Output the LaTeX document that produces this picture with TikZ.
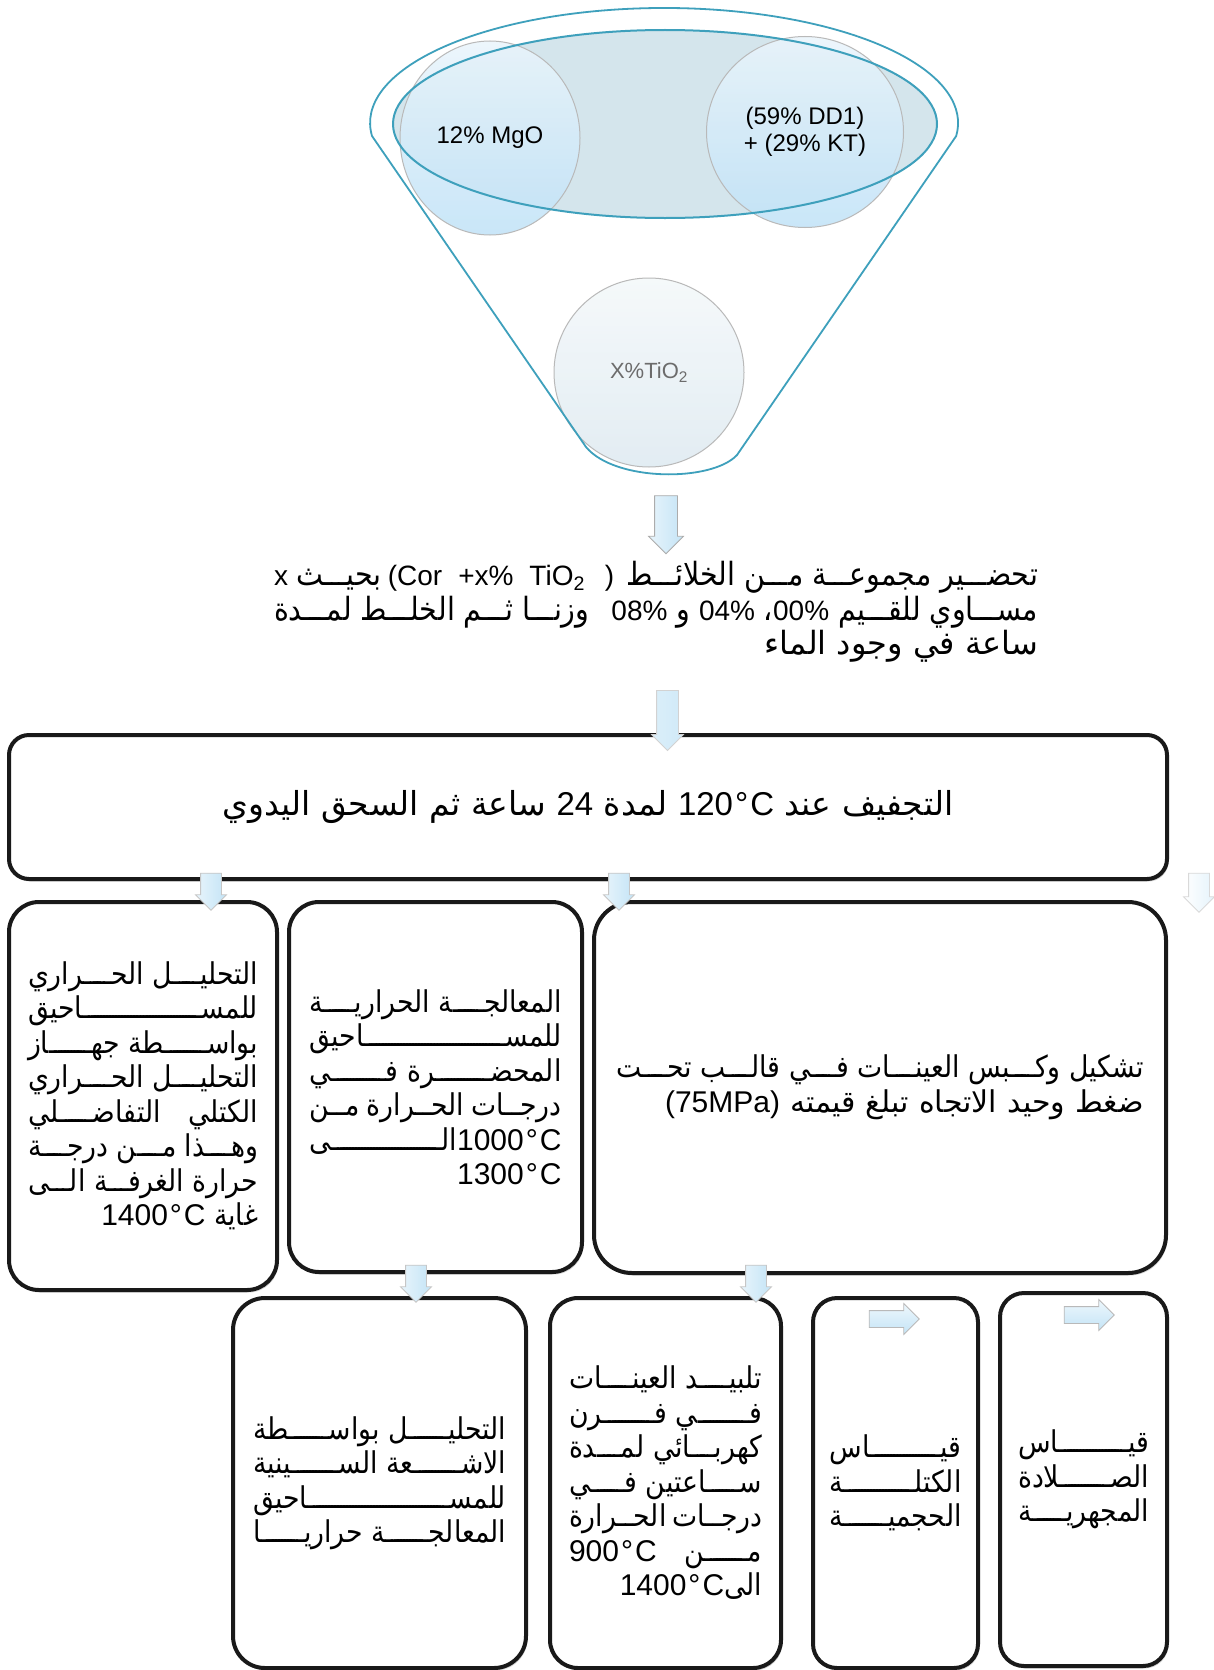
\documentclass[tikz,border=0pt]{standalone}
\usepackage{fontspec}
\setmainfont{Liberation Sans}
\newfontfamily\arfont[Script=Arabic]{DejaVu Sans}
\newfontfamily\arfontn[Script=Arabic,FakeStretch=0.89]{DejaVu Sans}
\newfontfamily\latfont{Liberation Sans}
\TeXXeTstate=1
\usetikzlibrary{shapes.geometric,shapes.arrows,shadows}
\definecolor{funnel}{RGB}{62,160,188}
\definecolor{ellfill}{RGB}{212,229,236}
\definecolor{circA}{RGB}{234,245,252}
\definecolor{circB}{RGB}{192,226,247}
\definecolor{tiA}{RGB}{244,248,250}
\definecolor{tiB}{RGB}{222,234,241}
\definecolor{arrowblue}{RGB}{196,228,246}
\newcommand\arcur{\arfont}
\newcommand\AR[1]{{\arcur\beginR #1\endR}}
\newcommand\ARw[1]{{\arfont\beginR #1\endR}}
\newcommand\LT[1]{{\latfont\beginL #1\endL}}
\newcommand\LTp[1]{{\fontsize{28}{34.5}\latfont\beginL #1\endL}}
\newcommand\degc[1]{#1\hskip2pt°\hskip2pt C}
\newcommand\kas{\xleaders\hbox to 3pt{\hss ـ\hss}\hfill}
\newcommand\jl[2]{\hbox to #1{#2}}
\newcommand\rl[2]{\hbox to #1{\hfill #2}}
\tikzset{
  stepbox/.style={draw=black!90, line width=4pt, rounded corners=30pt, fill=white, inner sep=0pt,
    drop shadow={shadow xshift=1.5pt, shadow yshift=-2.5pt, opacity=.35},
    font=\fontsize{30}{34.5}\selectfont\let\arcur\arfontn},
  circ/.style={ellipse, inner sep=0pt, draw=gray!55, line width=1pt, top color=circA, bottom color=circB,
    fill opacity=.85, text opacity=1, font=\fontsize{24}{27}\selectfont},
  barrow/.style={shape=single arrow, single arrow head extend=6pt, single arrow tip angle=90,
    inner xsep=0pt, inner ysep=11pt, draw=gray!65, line width=.8pt,
    left color=white!60!arrowblue, right color=arrowblue},
  lightarrow/.style={barrow, draw=gray!35, left color=arrowblue!60, right color=arrowblue!80},
}
\begin{document}
\begin{tikzpicture}[x=1pt,y=-1pt]
\useasboundingbox (0,0) rectangle (1214,1670);
\fill[white] (0,0) rectangle (1214,1670);

% ---------- funnel ----------
\fill[white] (372,136) arc[start angle=173.5, end angle=366.5, x radius=294, y radius=115]
  -- (737,455) .. controls (712,482) and (615,482) .. (586,447) -- cycle;
\fill[ellfill] (665,124) ellipse [x radius=272, y radius=94];
\node[circ, minimum width=180pt, minimum height=194pt] (mgo) at (490,138) {12\% MgO};
\node[circ, minimum width=197pt, minimum height=191pt, align=center] (dd1) at (805,132)
  {(59\% DD1)\\+ (29\% KT)};
\node[circ, minimum width=190pt, minimum height=189pt, top color=tiA, bottom color=tiB,
  text=gray!85!black, font=\fontsize{22}{26}\selectfont] (tio2) at (649,372.5) {X\%TiO\textsubscript{2}};
\draw[funnel, line width=2pt] (665,124) ellipse [x radius=272, y radius=94];
\draw[funnel, line width=1.8pt] (372,136) arc[start angle=173.5, end angle=366.5, x radius=294, y radius=115]
  -- (737,455) .. controls (712,482) and (615,482) .. (586,447) -- cycle;

\node[barrow, minimum height=58pt, rotate=-90] (a1) at (666,519) {};

% ---------- preparation text ----------
\node[inner sep=0pt, font=\fontsize{32}{34.5}\selectfont\let\arcur\arfontn] (prep) at (656,612) {\vbox{%
\jl{764pt}{\LTp{x} \AR{بحيـ\kas ـث}\hskip 6pt\LTp{(Cor\hskip 16pt+x\%\hskip 16pt TiO\textsubscript{2}\hskip 20pt)}\hskip 12pt\AR{تحضـ\kas ـير مجموعـ\kas ـة مـ\kas ـن الخلائـ\kas ـط}}
\jl{764pt}{\AR{وزنـ\kas ـا ثـ\kas ـم الخلـ\kas ـط لمـ\kas ـدة}\hskip 22pt\LTp{08\%} \AR{و} \LTp{04\%} \AR{،}\LTp{00\%} \AR{مسـ\kas ـاوي للقـ\kas ـيم}}
\rl{764pt}{\ARw{ساعة في وجود الماء}}}};

% ---------- main box ----------
\node[stepbox, rounded corners=20pt, minimum width=1158pt, minimum height=144pt,
  font=\fontsize{33}{36}\selectfont] (dry) at (588,807)
  {\ARw{التجفيف عند \LT{\degc{120}} لمدة \LT{24} ساعة ثم السحق اليدوي}};
\node[lightarrow, minimum height=60pt, inner ysep=10.5pt, single arrow head extend=5pt, rotate=-90] (a2) at (667.5,715) {};

% ---------- row 2 ----------
\node[stepbox, minimum width=268pt, minimum height=388pt] (boxA) at (143,1096) {\vbox{%
\jl{230pt}{\AR{التحليـ\kas ـل الحـ\kas ـراري}}
\jl{230pt}{\AR{للمسـ\kas ـاحيق}}
\jl{230pt}{\AR{بواسـ\kas ـطة جهـ\kas ـاز}}
\jl{230pt}{\AR{التحليـ\kas ـل الحـ\kas ـراري}}
\jl{230pt}{\AR{الكتلي\hskip 10pt plus 1fill التفاضـ\kas ـلي}}
\jl{230pt}{\AR{وهـ\kas ـذا مـ\kas ـن درجـ\kas ـة}}
\jl{230pt}{\AR{حرارة الغرفـ\kas ـة الـ\kas ـى}}
\rl{230pt}{\AR{غاية \LT{\degc{1400}}}}}};

\node[stepbox, minimum width=293pt, minimum height=370pt] (boxB) at (435.5,1087) {\vbox{%
\jl{252pt}{\AR{المعالجـ\kas ـة الحراريـ\kas ـة}}
\jl{252pt}{\AR{للمسـ\kas ـاحيق}}
\jl{252pt}{\AR{المحضـ\kas ـرة فـ\kas ـي}}
\jl{252pt}{\AR{درجـ\kas ـات الحـ\kas ـرارة مـ\kas ـن}}
\jl{252pt}{\AR{\LT{\degc{1000}}الـ\kas ـى}}
\rl{252pt}{\LT{\degc{1300}}}}};

\node[stepbox, rounded corners=38pt, minimum width=572pt, minimum height=371pt] (boxC) at (880,1087.5) {\vbox{%
\jl{527pt}{\AR{تشكيل وكـ\kas ـبس العينـ\kas ـات فـ\kas ـي قالـ\kas ـب تحـ\kas ـت}}
\rl{527pt}{\spaceskip=10pt\LT{(75MPa)} \ARw{ضغط وحيد الاتجاه تبلغ قيمته}}}};

\node[barrow, minimum height=37pt, inner ysep=10pt, single arrow head extend=5pt, rotate=-90, draw=gray!45] (a3) at (211,886.5) {};
\node[barrow, minimum height=37pt, inner ysep=10pt, single arrow head extend=5pt, rotate=-90, draw=gray!45] (a4) at (619,886.5) {};
\node[lightarrow, minimum height=39pt, inner ysep=10pt, single arrow head extend=5pt, rotate=-90, draw=gray!30,
  left color=white, right color=arrowblue!45] (a5) at (1199,887.5) {};

% ---------- row 3 ----------
\node[stepbox, rounded corners=32pt, minimum width=293pt, minimum height=370pt] (boxD) at (379.5,1483) {\vbox{%
\jl{253pt}{\AR{التحليـ\kas ـل بواسـ\kas ـطة}}
\jl{253pt}{\AR{الاشـ\kas ـعة السـ\kas ـينية}}
\jl{253pt}{\AR{للمسـ\kas ـاحيق}}
\jl{253pt}{\AR{المعالجـ\kas ـة حراريـ\kas ـا}}}};

\node[stepbox, rounded corners=28pt, minimum width=231pt, minimum height=370pt] (boxE) at (665.5,1483) {\vbox{%
\jl{193pt}{\AR{تلبيـ\kas ـد العينـ\kas ـات}}
\jl{193pt}{\AR{فـ\kas ـي فـ\kas ـرن}}
\jl{193pt}{\AR{كهربـ\kas ـائي لمـ\kas ـدة}}
\jl{193pt}{\AR{سـ\kas ـاعتين فـ\kas ـي}}
\jl{193pt}{\AR{درجـ\kas ـات الحـ\kas ـرارة}}
\jl{193pt}{\AR{مـ\kas ـن\hfill\LT{\degc{900}}}}
\rl{193pt}{\AR{الى\LT{\degc{1400}}}}}};

\node[stepbox, rounded corners=24pt, minimum width=165pt, minimum height=370pt] (boxF) at (895.5,1483) {\vbox{%
\jl{132pt}{\AR{قيـ\kas ـاس}}
\jl{132pt}{\AR{الكتلـ\kas ـة}}
\jl{132pt}{\AR{الحجميـ\kas ـة}}}};

\node[stepbox, rounded corners=24pt, minimum width=167pt, minimum height=373pt] (boxG) at (1083.5,1479.5) {\vbox{%
\jl{131pt}{\AR{قيـ\kas ـاس}}
\jl{131pt}{\AR{الصـ\kas ـلادة}}
\jl{131pt}{\AR{المجهريـ\kas ـة}}}};

\node[barrow, minimum height=37pt, inner ysep=10pt, single arrow head extend=5pt, rotate=-90, draw=gray!45] (a6) at (416,1278.5) {};
\node[barrow, minimum height=37pt, inner ysep=10pt, single arrow head extend=5pt, rotate=-90, draw=gray!45] (a7) at (756,1278.5) {};

\node[barrow, minimum height=50pt, inner ysep=8pt, single arrow head extend=7pt, draw=gray!55,
  top color=white!70!arrowblue, bottom color=arrowblue] (a8) at (890,1319) {};
\node[barrow, minimum height=50pt, inner ysep=8pt, single arrow head extend=7pt, draw=gray!55,
  top color=white!70!arrowblue, bottom color=arrowblue] (a9) at (1085,1315) {};
\end{tikzpicture}
\end{document}
